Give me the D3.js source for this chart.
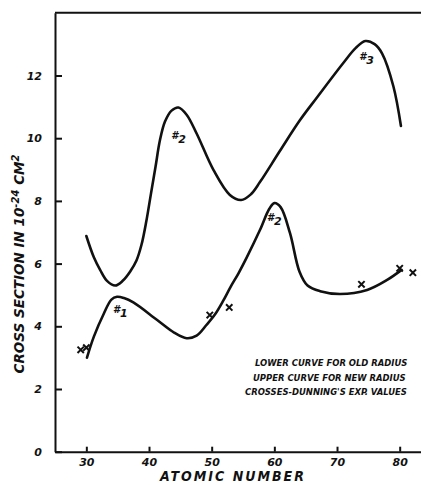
<!DOCTYPE html>
<html>
<head>
<meta charset="utf-8">
<script src="https://cdn.jsdelivr.net/npm/d3@7"></script>
<style>
  body { margin: 0; background: #fff; }
  text { font-family: "DejaVu Sans", sans-serif; font-weight: bold; font-style: italic; fill: #111; }
</style>
</head>
<body>
<script>
// values (atomic number, cross section)
var upperCurve = [
  [30.0, 6.88], [31.2, 6.2], [32.2, 5.8], [33.3, 5.45], [34.6, 5.3], [35.8, 5.45],
  [37.0, 5.75], [38.0, 6.1], [38.8, 6.6], [39.57, 7.35], [40.32, 8.24], [41.04, 9.09],
  [41.75, 9.94], [42.55, 10.53], [43.6, 10.88], [44.7, 10.98], [46.0, 10.75], [47.6, 10.15],
  [50.3, 8.98], [52.9, 8.19], [54.7, 8.03], [56.2, 8.2], [57.7, 8.6], [60.9, 9.6],
  [64.1, 10.58], [66.8, 11.3], [71.0, 12.4], [73.0, 12.88], [74.5, 13.1], [76.0, 13.0],
  [77.2, 12.7], [79.0, 11.65], [80.2, 10.39]
];
var lowerCurve = [
  [30.1, 3.0], [31.2, 3.67], [32.8, 4.41], [34.0, 4.85], [34.9, 4.94], [36.0, 4.9],
  [37.5, 4.76], [41.3, 4.2], [44.0, 3.8], [46.0, 3.62], [47.6, 3.7], [49.2, 4.05],
  [50.6, 4.4], [51.8, 4.8], [53.0, 5.25], [54.3, 5.7], [55.6, 6.2], [57.7, 7.07],
  [59.2, 7.75], [60.0, 7.93], [61.0, 7.8], [62.5, 6.97], [64.0, 5.75], [65.3, 5.3],
  [67.3, 5.12], [70.5, 5.03], [74.8, 5.16], [78.0, 5.48], [80.3, 5.8]
];
var crosses = [[29.1, 3.25], [30.0, 3.32], [49.7, 4.36], [52.8, 4.6], [73.9, 5.34], [80.0, 5.85], [82.1, 5.71]];
var peakLabels = [
  {n: "1", x: 35.2, y: 4.42},
  {n: "2", x: 44.5, y: 9.97},
  {n: "2", x: 59.8, y: 7.35},
  {n: "3", x: 74.5, y: 12.5}
];
var xTicks = [30, 40, 50, 60, 70, 80];
var yTicks = [0, 2, 4, 6, 8, 10, 12];
var legendLines = ["LOWER CURVE FOR OLD RADIUS", "UPPER CURVE FOR NEW RADIUS", "CROSSES-DUNNING'S EXP. VALUES"];

var W = 421, H = 485;
var svg = d3.select("body").append("svg").attr("width", W).attr("height", H);

var x = d3.scaleLinear().domain([25, 83.4]).range([55, 421]);
var y = d3.scaleLinear().domain([0, 14]).range([451.7, 12.8]);

// axes, ticks pointing inward
var xAxis = svg.append("g")
    .attr("transform", "translate(0," + y(0) + ")")
    .call(d3.axisBottom(x).tickValues(xTicks).tickSize(-5).tickSizeOuter(0).tickPadding(7));
var yAxis = svg.append("g")
    .attr("transform", "translate(" + x(25) + ",0)")
    .call(d3.axisLeft(y).tickValues(yTicks).tickSize(-7).tickSizeOuter(0).tickPadding(13));

[xAxis, yAxis].forEach(function(g) {
  g.select(".domain").attr("stroke", "#111").attr("stroke-width", 2);
  g.selectAll(".tick line").attr("stroke", "#111").attr("stroke-width", 2);
  g.selectAll(".tick text").attr("font-size", 11).attr("fill", "#111")
    .style("font-family", "DejaVu Sans").style("font-weight", "bold").style("font-style", "italic");
});

// top border
svg.append("line")
    .attr("x1", x(25)).attr("x2", W).attr("y1", y(14)).attr("y2", y(14))
    .attr("stroke", "#111").attr("stroke-width", 2);

var line = d3.line()
    .x(function(d) { return x(d[0]); })
    .y(function(d) { return y(d[1]); })
    .curve(d3.curveCatmullRom.alpha(0.5));

[upperCurve, lowerCurve].forEach(function(c) {
  svg.append("path").attr("d", line(c))
    .attr("fill", "none").attr("stroke", "#111").attr("stroke-width", 2.6)
    .attr("stroke-linecap", "round").attr("stroke-linejoin", "round");
});

svg.selectAll(".cross").data(crosses).enter().append("path")
    .attr("class", "cross")
    .attr("transform", function(d) { return "translate(" + x(d[0]) + "," + y(d[1]) + ")"; })
    .attr("d", d3.symbol().type(d3.symbolX).size(28))
    .attr("fill", "none").attr("stroke", "#111").attr("stroke-width", 2);

var pl = svg.selectAll(".peak").data(peakLabels).enter().append("text")
    .attr("class", "peak")
    .attr("x", function(d) { return x(d.x) - 6; })
    .attr("y", function(d) { return y(d.y); })
    .attr("font-size", 10);
pl.append("tspan").text("#");
pl.append("tspan").attr("dy", 4).attr("font-size", 11).text(function(d) { return d.n; });

// legend text
var legendX = [255, 253, 245];
svg.selectAll(".legend").data(legendLines).enter().append("text")
    .attr("class", "legend")
    .attr("x", function(d, i) { return legendX[i]; })
    .attr("y", function(d, i) { return 366 + i * 14.5; })
    .style("font-family", "'DejaVu Sans Condensed', 'DejaVu Sans'")
    .attr("font-size", 9.4)
    .text(function(d) { return d; });

// axis titles
svg.append("text")
    .attr("x", 233).attr("y", 481).attr("text-anchor", "middle")
    .style("font-family", "'DejaVu Sans Condensed', 'DejaVu Sans'")
    .style("letter-spacing", "2px")
    .attr("font-size", 14)
    .text("ATOMIC NUMBER");

var yl = svg.append("text")
    .attr("transform", "translate(24,264) rotate(-90)")
    .attr("text-anchor", "middle")
    .attr("font-size", 13.5);
yl.append("tspan").text("CROSS SECTION IN 10");
yl.append("tspan").attr("dy", -5).attr("font-size", 10).text("-24");
yl.append("tspan").attr("dy", 5).text(" CM");
yl.append("tspan").attr("dy", -5).attr("font-size", 10).text("2");
</script>
</body>
</html>
